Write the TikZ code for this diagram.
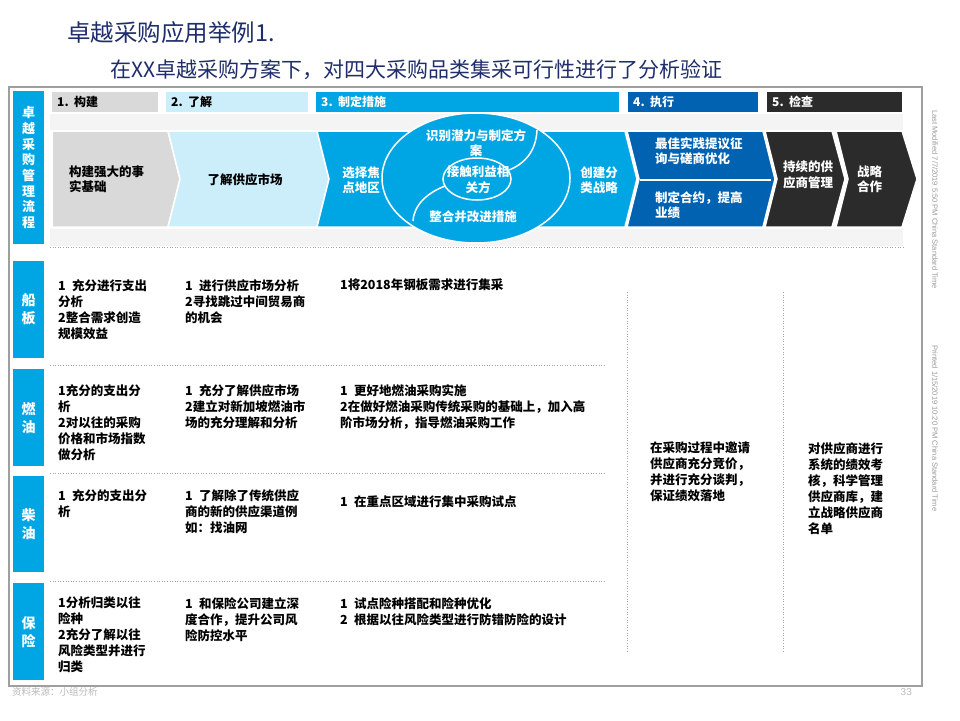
\documentclass[tikz,border=0pt]{standalone}
\usepackage{fontspec}
\setmainfont{Noto Sans CJK SC}
\newfontfamily\latinsans{Liberation Sans}
\usetikzlibrary{positioning}

\definecolor{hdgray}{HTML}{D9D9D9}
\definecolor{hdlight}{HTML}{CCEEFB}
\definecolor{hdblue}{HTML}{00A6E4}
\definecolor{hddark}{HTML}{0062B1}
\definecolor{hdblack}{HTML}{2B2B2B}
\definecolor{titlenavy}{HTML}{1F2D6B}

\begin{document}
\begin{tikzpicture}[
    x=1pt, y=-1pt,
    every node/.style={inner sep=0pt},
    tabtxt/.style={anchor=west, font=\bfseries\fontsize{12}{14}\selectfont},
    celltxt/.style={anchor=north west, align=left, font=\bfseries\fontsize{12.5}{16}\selectfont},
    chevtxt/.style={align=left, font=\bfseries\fontsize{12.5}{15.5}\selectfont},
    rowlabel/.style={
        anchor=north west,
        fill=hdblue,
        minimum width=31pt,
        text=white,
        align=center,
        font=\bfseries\fontsize{14}{18}\selectfont
    },
    chev/.style={draw=white, line width=1.5pt},
    sep/.style={gray!70, dotted, line width=0.6pt},
    sidetxt/.style={rotate=-90, anchor=west, text=gray!80, font=\latinsans\fontsize{7.5}{9}\selectfont}
]
\useasboundingbox (0,0) rectangle (960,720);

% titles
\node[anchor=west, text=titlenavy, font=\fontsize{23.5}{26}\selectfont] (title) at (67,33) {卓越采购应用举例1.};
\node[anchor=west, text=titlenavy, font=\fontsize{21}{24}\selectfont] (subtitle) at (110,70) {在XX卓越采购方案下，对四大采购品类集采可行性进行了分析验证};

% frame
\draw[gray!75, line width=2pt] (9,87) rectangle (922,686);

% left process label
\node[rowlabel, minimum height=153pt, font=\bfseries\fontsize{13}{15.7}\selectfont] (flow) at (13,91) {卓\\越\\采\\购\\管\\理\\流\\程};

% step tabs
\fill[hdgray] (52,92) rectangle (158,112);
\fill[hdlight] (166,92) rectangle (308,112);
\fill[hdblue] (316,92) rectangle (619,112);
\fill[hddark] (628,92) rectangle (758,112);
\fill[hdblack] (767,92) rectangle (902,112);
\node[tabtxt] (tab1) at (57,102) {1.\ \ 构建};
\node[tabtxt] (tab2) at (171,102) {2.\ \ 了解};
\node[tabtxt, text=white] (tab3) at (321,102) {3.\ \ 制定措施};
\node[tabtxt, text=white] (tab4) at (633,102) {4.\ \ 执行};
\node[tabtxt, text=white] (tab5) at (772,102) {5.\ \ 检查};

% bands
\fill[gray!9] (50,114) rectangle (903,130);
\fill[gray!9] (50,229) rectangle (903,246);
\draw[sep] (50,247) -- (903,247);

% chevrons
\fill[hdgray, chev] (52,131) -- (168,131) -- (180,179) -- (168,227) -- (52,227) -- cycle;
\fill[hdlight, chev] (168,131) -- (317,131) -- (329,179) -- (317,227) -- (168,227) -- (180,179) -- cycle;
\fill[hdblue, chev] (317,131) -- (625,131) -- (637,179) -- (625,227) -- (317,227) -- (329,179) -- cycle;
\fill[hddark, chev] (627,131) -- (763,131) -- (775,179) -- (763,227) -- (627,227) -- (639,179) -- cycle;
\fill[hdblack, chev] (765,131) -- (832,131) -- (845,179) -- (832,227) -- (765,227) -- (777,179) -- cycle;
\fill[hdblack, chev] (836,131) -- (902,131) -- (917,179) -- (902,227) -- (836,227) -- (848,179) -- cycle;
\draw[white, line width=2pt] (640,180) -- (771,180);

% ellipse in step 3
\filldraw[fill=hdblue, draw=white, line width=1.5pt] (476,178) ellipse [x radius=94, y radius=65];
\draw[white, line width=1.5pt] (477,179) ellipse [x radius=34, y radius=21];
\draw[white, line width=1.5pt] (537,130) .. controls (536,152) and (524,164) .. (509,170);
\draw[white, line width=1.5pt] (445,186) .. controls (427,193) and (414,205) .. (413,221);

% chevron texts
\node[chevtxt, anchor=west] (fact) at (69,179) {构建强大的事\\实基础};
\node[chevtxt] (market) at (245,180) {了解供应市场};
\node[chevtxt, text=white, align=center] (focus) at (361,180) {选择焦\\点地区};
\node[chevtxt, text=white, align=center] (potential) at (476,143) {识别潜力与制定方\\案};
\node[chevtxt, text=white, align=center] (stake) at (478,180) {接触利益相\\关方};
\node[chevtxt, text=white] (improve) at (473,217) {整合并改进措施};
\node[chevtxt, text=white, align=center] (category) at (599,180) {创建分\\类战略};
\node[chevtxt, text=white, anchor=west] (practice) at (655,151) {最佳实践提议征\\询与磋商优化};
\node[chevtxt, text=white, anchor=west] (contract) at (655,205) {制定合约，提高\\业绩};
\node[chevtxt, text=white, anchor=west] (supplier) at (783,175) {持续的供\\应商管理};
\node[chevtxt, text=white, anchor=west] (partner) at (857,179) {战略\\合作};

% category labels
\node[rowlabel, minimum height=97pt] (chuan) at (13,261) {船\\板};
\node[rowlabel, minimum height=97pt] (ran) at (13,369) {燃\\油};
\node[rowlabel, minimum height=96pt] (chai) at (13,476) {柴\\油};
\node[rowlabel, minimum height=97pt] (bao) at (13,583) {保\\险};

% table rules
\draw[sep] (50,365) -- (605,365);
\draw[sep] (50,473) -- (605,473);
\draw[sep] (50,581) -- (605,581);
\draw[sep] (627,292) -- (627,653);
\draw[sep] (783,292) -- (783,653);

% ship plate
\node[celltxt] (chuan1) at (58,279) {1\enspace 充分进行支出\\分析\\2整合需求创造\\规模效益};
\node[celltxt] (chuan2) at (185,279) {1\enspace 进行供应市场分析\\2寻找跳过中间贸易商\\的机会};
\node[celltxt] (chuan3) at (340,279) {1将2018年钢板需求进行集采};

% fuel oil
\node[celltxt] (ran1) at (58,384) {1充分的支出分\\析\\2对以往的采购\\价格和市场指数\\做分析};
\node[celltxt] (ran2) at (185,384) {1\enspace 充分了解供应市场\\2建立对新加坡燃油市\\场的充分理解和分析};
\node[celltxt] (ran3) at (340,384) {1\enspace 更好地燃油采购实施\\2在做好燃油采购传统采购的基础上，加入高\\阶市场分析，指导燃油采购工作};

% diesel
\node[celltxt] (chai1) at (58,489) {1\enspace 充分的支出分\\析};
\node[celltxt] (chai2) at (185,489) {1\enspace 了解除了传统供应\\商的新的供应渠道例\\如：找油网};
\node[celltxt] (chai3) at (340,496) {1\enspace 在重点区域进行集中采购试点};

% insurance
\node[celltxt] (bao1) at (58,597) {1分析归类以往\\险种\\2充分了解以往\\风险类型并进行\\归类};
\node[celltxt] (bao2) at (185,597) {1\enspace 和保险公司建立深\\度合作，提升公司风\\险防控水平};
\node[celltxt] (bao3) at (340,597) {1\enspace 试点险种搭配和险种优化\\2\enspace 根据以往风险类型进行防错防险的设计};

% execute / check
\node[celltxt] (exec) at (650,442) {在采购过程中邀请\\供应商充分竞价，\\并进行充分谈判，\\保证绩效落地};
\node[celltxt] (check) at (808,442) {对供应商进行\\系统的绩效考\\核，科学管理\\供应商库，建\\立战略供应商\\名单};

% footer and side notes
\node[anchor=west, text=gray!55, font=\fontsize{9.5}{11}\selectfont] (source) at (12,692) {资料来源：小组分析};
\node[anchor=east, text=gray!55, font=\latinsans\fontsize{10}{12}\selectfont] (page) at (912,692) {33};
\node[sidetxt] (modified) at (935,110) {Last Modified 7/7/2019 5:50 PM China Standard Time};
\node[sidetxt] (printed) at (935,345) {Printed 1/15/2019 10:20 PM China Standard Time};

\end{tikzpicture}
\end{document}
